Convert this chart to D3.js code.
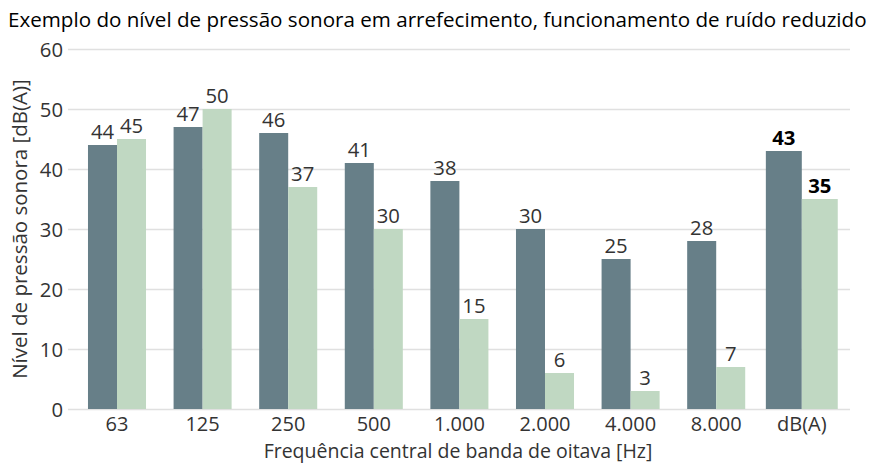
<!doctype html>
<html>
<head>
<script src="https://d3js.org/d3.v7.min.js"></script>
<style>
body { margin: 0; background: #fff; }
text { font-family: "Open Sans", sans-serif; }
</style>
</head>
<body>
<script type="text/javascript">
var width = 889;
var height = 464;

var categories = ["63", "125", "250", "500", "1.000", "2.000", "4.000", "8.000", "dB(A)"];
var seriesA = [44, 47, 46, 41, 38, 30, 25, 28, 43];
var seriesB = [45, 50, 37, 30, 15, 6, 3, 7, 35];
var yTicks = [0, 10, 20, 30, 40, 50, 60];

var title = "Exemplo do nível de pressão sonora em arrefecimento, funcionamento de ruído reduzido";
var yTitle = "Nível de pressão sonora [dB(A)]";
var xTitle = "Frequência central de banda de oitava [Hz]";

var colA = "#677f88";
var colB = "#c0d8c2";
var fs = 20.3;

var svg = d3.select("body").append("svg")
    .attr("width", width)
    .attr("height", height);

var x = d3.scaleBand()
    .domain(categories)
    .range([74.2, 844.6]);

var y = d3.scaleLinear()
    .domain([0, 60])
    .range([409, 49]);

// grid lines
svg.append("g").selectAll("line")
    .data(yTicks)
    .enter()
    .append("line")
    .attr("x1", 68)
    .attr("x2", 850)
    .attr("y1", function (d) { return y(d) + 0.5 })
    .attr("y2", function (d) { return y(d) + 0.5 })
    .attr("stroke", "#e0e0e0")
    .attr("stroke-width", 1.5);

// y tick labels
svg.append("g").selectAll("text")
    .data(yTicks)
    .enter()
    .append("text")
    .attr("x", 63)
    .attr("y", function (d) { return y(d) + 7.5 })
    .attr("text-anchor", "end")
    .attr("font-size", fs)
    .attr("fill", "#333")
    .text(function (d) { return d });

// bar width depends on category, last one is wider
function bw(c) { return c == "dB(A)" ? x.bandwidth() * 0.42 : x.bandwidth() * 0.339 }

var groups = svg.append("g").selectAll("g")
    .data(categories)
    .enter()
    .append("g");

groups.append("rect")
    .attr("x", function (d) { return x(d) + x.bandwidth() / 2 - bw(d) })
    .attr("y", function (d, i) { return y(seriesA[i]) })
    .attr("width", function (d) { return bw(d) })
    .attr("height", function (d, i) { return y(0) - y(seriesA[i]) })
    .attr("fill", colA);

groups.append("rect")
    .attr("x", function (d) { return x(d) + x.bandwidth() / 2 })
    .attr("y", function (d, i) { return y(seriesB[i]) })
    .attr("width", function (d) { return bw(d) })
    .attr("height", function (d, i) { return y(0) - y(seriesB[i]) })
    .attr("fill", colB);

// value labels
groups.append("text")
    .attr("x", function (d) { return x(d) + x.bandwidth() / 2 - bw(d) / 2 })
    .attr("y", function (d, i) { return y(seriesA[i]) - 6 })
    .attr("text-anchor", "middle")
    .attr("font-size", fs)
    .attr("font-weight", function (d) { return d == "dB(A)" ? "bold" : "normal" })
    .attr("fill", function (d) { return d == "dB(A)" ? "#000" : "#333" })
    .text(function (d, i) { return seriesA[i] });

groups.append("text")
    .attr("x", function (d) { return x(d) + x.bandwidth() / 2 + bw(d) / 2 })
    .attr("y", function (d, i) { return y(seriesB[i]) - 6 })
    .attr("text-anchor", "middle")
    .attr("font-size", fs)
    .attr("font-weight", function (d) { return d == "dB(A)" ? "bold" : "normal" })
    .attr("fill", function (d) { return d == "dB(A)" ? "#000" : "#333" })
    .text(function (d, i) { return seriesB[i] });

// x tick labels
groups.append("text")
    .attr("x", function (d) { return x(d) + x.bandwidth() / 2 })
    .attr("y", 431)
    .attr("text-anchor", "middle")
    .attr("font-size", 20)
    .attr("fill", "#333")
    .text(function (d) { return d });

// titles
svg.append("text")
    .attr("x", 8)
    .attr("y", 27)
    .attr("font-size", 20.6)
    .attr("fill", "#000")
    .text(title);

svg.append("text")
    .attr("transform", "translate(27,229) rotate(-90)")
    .attr("text-anchor", "middle")
    .attr("font-size", 20.5)
    .attr("fill", "#333")
    .text(yTitle);

svg.append("text")
    .attr("x", 458)
    .attr("y", 458)
    .attr("text-anchor", "middle")
    .attr("font-size", 19.5)
    .attr("fill", "#333")
    .text(xTitle);
</script>
</body>
</html>
